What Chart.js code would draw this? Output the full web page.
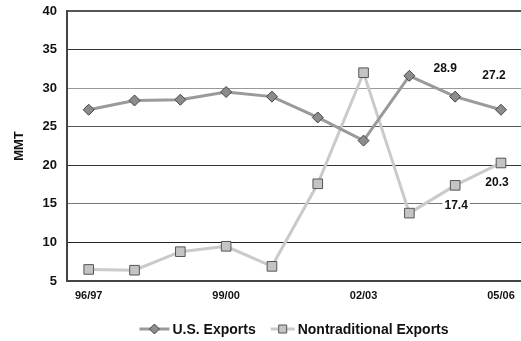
<!DOCTYPE html>
<html>
<head>
<meta charset="utf-8">
<script src="https://cdn.jsdelivr.net/npm/chart.js@4.4.0/dist/chart.umd.min.js"></script>
<style>
html,body{margin:0;padding:0;background:#fff;}
#wrap{width:521px;height:341px;}
</style>
</head>
<body>
<div id="wrap"><canvas id="c" width="521" height="341"></canvas></div>
<script>
const categories = ['96/97','97/98','98/99','99/00','00/01','01/02','02/03','03/04','04/05','05/06'];
const usExports = [27.2, 28.4, 28.5, 29.5, 28.9, 26.2, 23.2, 31.6, 28.9, 27.2];
const nontradExports = [6.5, 6.4, 8.8, 9.5, 6.9, 17.6, 32.0, 13.8, 17.4, 20.3];
const seriesNames = ['U.S. Exports', 'Nontraditional Exports'];
const yTicks = [5, 10, 15, 20, 25, 30, 35, 40];
const xTickIndices = [0, 3, 6, 9];
// value labels: [dataset index, point index, text]
const valueLabels = [[0, 8, '28.9'], [0, 9, '27.2'], [1, 8, '17.4'], [1, 9, '20.3']];

const labelOffsets = {'0-8': [-10, -28], '0-9': [-7, -34], '1-8': [1, 20], '1-9': [-4, 20]};
const FONT = 'Arial, "Liberation Sans", sans-serif';

const gridColors = {5:'#444', 10:'#222', 15:'#777', 20:'#333', 25:'#555', 30:'#999', 35:'#333', 40:'#555'};

const labelPlugin = {
  id: 'valueLabels',
  afterDatasetsDraw(chart) {
    const ctx = chart.ctx;
    ctx.save();
    ctx.font = 'bold 12px ' + FONT;
    ctx.textAlign = 'center';
    ctx.textBaseline = 'middle';
    valueLabels.forEach(([di, pi, txt]) => {
      const pt = chart.getDatasetMeta(di).data[pi];
      const off = labelOffsets[di + '-' + pi];
      const x = pt.x + off[0], y = pt.y + off[1];
      const w = ctx.measureText(txt).width;
      ctx.fillStyle = '#fff';
      ctx.fillRect(x - w/2 - 2, y - 7, w + 4, 14);
      ctx.fillStyle = '#111';
      ctx.fillText(txt, x, y);
    });
    ctx.restore();
  }
};

const legendPlugin = {
  id: 'customLegend',
  afterDraw(chart) {
    const ctx = chart.ctx;
    ctx.save();
    ctx.font = 'bold 14px ' + FONT;
    ctx.textBaseline = 'middle';
    const y = 329;
    const symWs = [30, 24], gapS = 3, gapItem = 15;
    const items = chart.data.datasets.map((ds, i) => ({ds, sw: symWs[i], w: symWs[i] + gapS + ctx.measureText(ds.label).width}));
    const total = items.reduce((a, it) => a + it.w, 0) + gapItem * (items.length - 1);
    const ca = chart.chartArea;
    let x = (ca.left + ca.right) / 2 - total / 2;
    items.forEach(({ds, sw, w}) => {
      ctx.strokeStyle = ds.borderColor;
      ctx.lineWidth = 3;
      ctx.beginPath();
      ctx.moveTo(x, y); ctx.lineTo(x + sw, y);
      ctx.stroke();
      const cx = x + sw / 2;
      ctx.fillStyle = ds.pointBackgroundColor;
      ctx.strokeStyle = ds.pointBorderColor;
      ctx.lineWidth = 1;
      ctx.beginPath();
      if (ds.pointStyle === 'rectRot') {
        ctx.moveTo(cx, y - 5); ctx.lineTo(cx + 5, y); ctx.lineTo(cx, y + 5); ctx.lineTo(cx - 5, y); ctx.closePath();
      } else {
        ctx.rect(cx - 4, y - 4, 8, 8);
      }
      ctx.fill(); ctx.stroke();
      ctx.fillStyle = '#111';
      ctx.textAlign = 'left';
      ctx.fillText(ds.label, x + sw + gapS, y + 1);
      x += w + gapItem;
    });
    ctx.restore();
  }
};

new Chart(document.getElementById('c'), {
  type: 'line',
  data: {
    datasets: [
      {
        label: seriesNames[0],
        data: usExports.map((v, i) => ({x: i, y: v})),
        borderColor: '#9a9a9a',
        borderWidth: 3,
        pointStyle: 'rectRot',
        pointRadius: 5.5,
        pointBackgroundColor: '#8c8c8c',
        pointBorderColor: '#444',
        pointBorderWidth: 1,
        tension: 0
      },
      {
        label: seriesNames[1],
        data: nontradExports.map((v, i) => ({x: i, y: v})),
        borderColor: '#cacaca',
        borderWidth: 3,
        pointStyle: 'rect',
        pointRadius: 6.8,
        pointBackgroundColor: '#c4c4c4',
        pointBorderColor: '#555',
        pointBorderWidth: 1,
        tension: 0
      }
    ]
  },
  options: {
    responsive: false,
    animation: false,
    layout: {autoPadding: false, padding: {top: 11, right: 0, bottom: 30, left: 0}},
    plugins: {legend: {display: false}, tooltip: {enabled: false}},
    scales: {
      x: {
        type: 'linear',
        min: -0.474,
        max: 9.437,
        afterBuildTicks: s => { s.ticks = xTickIndices.map(v => ({value: v})); },
        afterFit: s => { s.height = 30; s.paddingLeft = 0; s.paddingRight = 0; },
        ticks: {
          callback: v => categories[v] !== undefined ? categories[v] : '',
          font: {family: FONT, size: 11, weight: 'bold'},
          color: '#111',
          padding: 8,
          maxRotation: 0
        },
        grid: {display: false, drawTicks: false},
        border: {display: true, color: '#444', width: 2}
      },
      y: {
        min: 5,
        max: 40,
        afterBuildTicks: s => { s.ticks = yTicks.map(v => ({value: v})); },
        afterFit: s => { s.width = 67; s.paddingTop = 0; s.paddingBottom = 0; },
        ticks: {
          font: {family: FONT, size: 13, weight: 'bold'},
          color: '#111',
          padding: 10
        },
        grid: {
          drawTicks: false,
          color: c => gridColors[c.tick && c.tick.value] || '#555',
          lineWidth: c => (c.tick && c.tick.value === 40) ? 2 : 1
        },
        border: {display: true, color: '#444', width: 2},
        title: {
          display: true,
          text: 'MMT',
          font: {family: FONT, size: 13, weight: 'bold'},
          color: '#111',
          padding: {top: 12, bottom: 0}
        }
      }
    }
  },
  plugins: [labelPlugin, legendPlugin]
});
</script>
</body>
</html>
